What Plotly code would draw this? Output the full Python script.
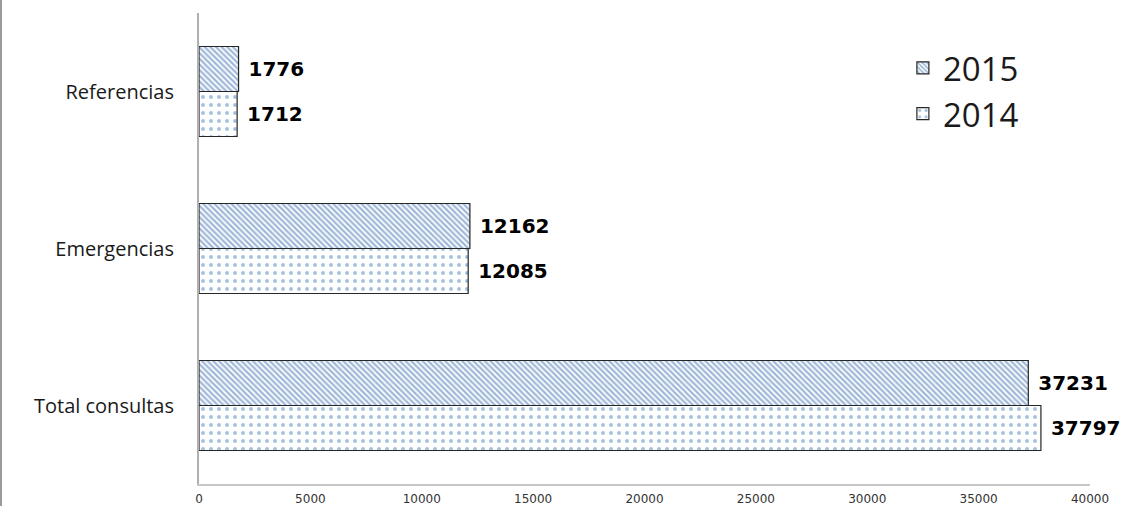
import plotly.graph_objects as go

# Datos del gráfico
categorias = ['Total consultas', 'Emergencias', 'Referencias']
valores_2014 = [37797, 12085, 1712]
valores_2015 = [37231, 12162, 1776]
ticks_x = [0, 5000, 10000, 15000, 20000, 25000, 30000, 35000, 40000]

borde = dict(color='#262626', width=1.2)
fuente_valores = dict(family='DejaVu Sans', size=20, color='black', weight='bold')

fig = go.Figure()

# 2014 primero: en barras horizontales agrupadas queda abajo
fig.add_trace(go.Bar(
    name='2014', y=categorias, x=valores_2014, orientation='h',
    marker=dict(color='white', line=borde,
                pattern=dict(shape='.', fgcolor='#4f81bd', bgcolor='white',
                             size=8, solidity=0.2)),
    text=[' ' + str(v) for v in valores_2014], textposition='outside',
    textfont=fuente_valores, cliponaxis=False,
))
fig.add_trace(go.Bar(
    name='2015', y=categorias, x=valores_2015, orientation='h',
    marker=dict(color='white', line=borde,
                pattern=dict(shape='\\', fgcolor='#3f70b2', bgcolor='white',
                             size=4, solidity=0.55)),
    text=[' ' + str(v) for v in valores_2015], textposition='outside',
    textfont=fuente_valores, cliponaxis=False,
))

fig.update_layout(
    width=1127, height=506,
    margin=dict(l=199, r=37, t=13, b=22, autoexpand=False),
    paper_bgcolor='white', plot_bgcolor='white',
    barmode='group', bargap=0.427, bargroupgap=0,
    showlegend=True,
    legend=dict(x=0.79, y=0.943, xanchor='left', yanchor='top',
                traceorder='reversed',
                font=dict(family='Open Sans', size=33, color='#1a1a1a'),
                bgcolor='rgba(0,0,0,0)'),
    xaxis=dict(range=[0, 40000], tickvals=ticks_x,
               ticktext=[str(t) for t in ticks_x],
               showgrid=False, zeroline=False, automargin=False,
               showline=True, linecolor='#c8c8c8', linewidth=2,
               tickfont=dict(family='DejaVu Sans', size=12, color='#333333'),
               ticks='', ticklabelstandoff=3),
    yaxis=dict(type='category', categoryorder='array', categoryarray=categorias,
               range=[-0.5, 2.5], showgrid=False, zeroline=False, automargin=False,
               showline=True, linecolor='#b0b0b0', linewidth=2,
               tickfont=dict(family='Open Sans', size=20, color='#1a1a1a'),
               ticks='', ticklabelstandoff=19),
    shapes=[dict(type='line', xref='paper', yref='paper',
                 x0=-0.2222, x1=-0.2222, y0=-0.05, y1=1.03,
                 line=dict(color='#9a9a9a', width=2))],
)

fig.write_html("out.html", config={'displayModeBar': False},
               post_script="document.body.style.margin='0';")
